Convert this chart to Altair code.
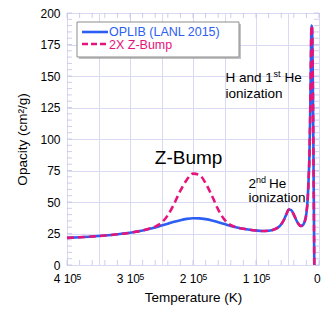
import altair as alt
import pandas as pd

# ---------------- data ----------------
temps = [400000, 380000, 360000, 340000, 320000, 300000, 280000, 270000, 260000,
         250000, 240000, 230000, 220000, 210000, 200000, 190000, 180000, 170000,
         160000, 150000, 140000, 130000, 120000, 110000, 100000, 90000, 80000,
         70000, 62000, 56000, 52000, 48000, 44000, 40000, 36000, 32000, 29000,
         26000, 23000, 20000, 18000, 16500, 15000, 14000, 13000, 12000, 11000,
         10000, 9000, 8000, 7500]
oplib = [21.5, 22.0, 22.6, 23.4, 24.4, 25.6, 27.4, 28.5, 29.8,
         31.3, 32.8, 34.3, 35.6, 36.6, 37.1, 37.0, 36.4, 35.4,
         34.0, 32.5, 31.0, 29.8, 28.8, 28.0, 27.4, 27.0, 27.2,
         28.5, 31.0, 35.5, 40.0, 44.0, 43.5, 40.0, 35.5, 32.2, 31.0,
         31.5, 34.0, 41.0, 52.0, 68.0, 90.0, 118.0, 155.0, 190.0, 188.0,
         155.0, 100.0, 35.0, 0.0]
zbump = [21.5, 22.0, 22.6, 23.4, 24.4, 25.6, 27.4, 28.8, 30.5,
         33.5, 39.5, 48.5, 59.0, 67.5, 72.5, 71.5, 65.0, 55.0,
         44.0, 36.0, 31.6, 29.8, 28.8, 28.0, 27.4, 27.0, 27.2,
         28.5, 31.0, 35.5, 40.0, 44.0, 43.5, 40.0, 35.5, 32.2, 31.0,
         31.5, 34.0, 41.0, 52.0, 68.0, 90.0, 118.0, 155.0, 190.0, 188.0,
         155.0, 100.0, 35.0, 0.0]

series_names = ["OPLIB (LANL 2015)", "2X Z-Bump"]
series_colors = ["#2c5ef2", "#e6147a"]

x_grid_values = list(range(0, 400001, 50000))
y_grid_values = list(range(0, 201, 25))
x_minor_ticks = list(range(0, 400001, 20000))
y_minor_ticks = list(range(0, 201, 5))
x_sup_values = [400000, 300000, 200000, 100000]   # labels written as "n 10^5"
x_sup_text = ["5", "5", "5", "5"]

# annotations
ann_text = ["Z-Bump", "H and 1", "st", "He", "ionization", "2", "nd", "He", "ionization"]
ann_T = [207000, 148400, 148400, 148400, 148400, 112000, 112000, 112000, 112000]
ann_v = [80, 145, 145, 145, 132.5, 61.4, 61.4, 61.4, 50.2]
ann_dx = [0, 0, 48, 59, 0, 0, 7.6, 20.5, 0]
ann_dy = [0, 0, -5, 0, 0, 0, -5, 0, 0]
ann_size = [19, 13.5, 9, 13.5, 13.5, 13.5, 9, 13.5, 13.5]
ann_align = ["center", "left", "left", "left", "left", "left", "left", "left", "left"]

# ---------------- styling ----------------
W, H = 252, 252
FONT = "Liberation Sans"
GRID = "#d9d9f3"
FRAME = "#b9b9e6"

xscale = alt.Scale(domain=[400000, 0], nice=False, zero=False)
yscale = alt.Scale(domain=[0, 200], nice=False)

x_axis = alt.Axis(
    values=x_grid_values,
    labelExpr="datum.value % 100000 == 0 ? (datum.value == 0 ? '0' : (datum.value / 100000) + ' 10') : ''",
    labelOffset=-2.2, labelFlush=False, labelOverlap=False,
    grid=True, gridColor=GRID, ticks=False, domain=False,
    labelFont=FONT, labelFontSize=12, labelColor="black", labelPadding=8.5,
    title="Temperature (K)", titleFont=FONT, titleFontSize=13.5,
    titleFontWeight="normal", titleColor="black", titlePadding=6,
)
y_axis = alt.Axis(
    values=y_grid_values,
    grid=True, gridColor=GRID, ticks=False, domain=False,
    labelFont=FONT, labelFontSize=12, labelColor="black", labelPadding=7,
    labelFlush=False, labelOverlap=False,
    title="Opacity (cm\u00b2/g)", titleFont=FONT, titleFontSize=13.5,
    titleFontWeight="normal", titleColor="black", titlePadding=10,
)


def X(field):
    return alt.X(field, scale=xscale, axis=x_axis)


def Y(field):
    return alt.Y(field, scale=yscale, axis=y_axis)


blue_df = pd.DataFrame({"T": temps, "kappa": oplib, "i": list(range(len(temps)))})
pink_df = pd.DataFrame({"T": temps, "kappa": zbump, "i": list(range(len(temps)))})
xt_df = pd.DataFrame({"T": x_minor_ticks})
yt_df = pd.DataFrame({"kappa": y_minor_ticks})
sup_df = pd.DataFrame({"T": x_sup_values, "s": x_sup_text})
ann_df = pd.DataFrame({"text": ann_text, "T": ann_T, "kappa": ann_v})

layers = []

# inward minor ticks on all four sides
layers.append(alt.Chart(xt_df).mark_tick(color=FRAME, thickness=1, size=5)
              .encode(x=X("T:Q"), y=alt.value(H - 2.5)))
layers.append(alt.Chart(xt_df).mark_tick(color=FRAME, thickness=1, size=5)
              .encode(x=X("T:Q"), y=alt.value(2.5)))
layers.append(alt.Chart(yt_df).mark_tick(color=FRAME, thickness=1, size=5)
              .encode(y=Y("kappa:Q"), x=alt.value(2.5)))
layers.append(alt.Chart(yt_df).mark_tick(color=FRAME, thickness=1, size=5)
              .encode(y=Y("kappa:Q"), x=alt.value(W - 2.5)))

# superscript exponent of x tick labels
layers.append(alt.Chart(sup_df).mark_text(font=FONT, fontSize=8.5, color="black",
                                          align="left", baseline="top", dx=9.6)
              .encode(x=X("T:Q"), y=alt.value(H + 7.5), text="s:N"))

# data lines
layers.append(alt.Chart(blue_df).mark_line(color=series_colors[0], strokeWidth=2.6, interpolate="monotone")
              .encode(x=X("T:Q"), y=Y("kappa:Q"), order="i:Q"))
layers.append(alt.Chart(pink_df).mark_line(color=series_colors[1], strokeWidth=2.6,
                                           strokeDash=[7, 4], interpolate="monotone")
              .encode(x=X("T:Q"), y=Y("kappa:Q"), order="i:Q"))

# annotations
for k in range(len(ann_text)):
    layers.append(
        alt.Chart(ann_df.iloc[[k]]).mark_text(
            font=FONT, fontSize=ann_size[k], color="black", align=ann_align[k],
            baseline="alphabetic", dx=ann_dx[k], dy=ann_dy[k]
        ).encode(x=X("T:Q"), y=Y("kappa:Q"), text="text:N")
    )

# legend box (manual)
one = pd.DataFrame({"a": [0]})
layers.append(alt.Chart(one).mark_rect(fill="#9a9a9a", opacity=0.6)
              .encode(x=alt.value(12), x2=alt.value(174), y=alt.value(11), y2=alt.value(46)))
layers.append(alt.Chart(one).mark_rect(fill="white", stroke="#8c8c8c", strokeWidth=1)
              .encode(x=alt.value(10), x2=alt.value(172), y=alt.value(9), y2=alt.value(44)))
layers.append(alt.Chart(one).mark_rule(color=series_colors[0], strokeWidth=2.6)
              .encode(x=alt.value(15), x2=alt.value(41), y=alt.value(19)))
layers.append(alt.Chart(one).mark_rule(color=series_colors[1], strokeWidth=2.6, strokeDash=[6, 3])
              .encode(x=alt.value(15), x2=alt.value(41), y=alt.value(31)))
layers.append(alt.Chart(one).mark_text(text=series_names[0], font=FONT, fontSize=12.5,
                                       color=series_colors[0], align="left", baseline="middle")
              .encode(x=alt.value(42), y=alt.value(19)))
layers.append(alt.Chart(one).mark_text(text=series_names[1], font=FONT, fontSize=12.5,
                                       color=series_colors[1], align="left", baseline="middle")
              .encode(x=alt.value(42), y=alt.value(31.5)))

chart = alt.layer(*layers).properties(
    width=W, height=H,
    autosize=alt.AutoSizeParams(type="none"),
    padding={"left": 59, "top": 5, "right": 5, "bottom": 40},
).configure_view(stroke=FRAME, strokeWidth=1)

chart.save("out.html", embed_options={"renderer": "svg", "actions": False})
